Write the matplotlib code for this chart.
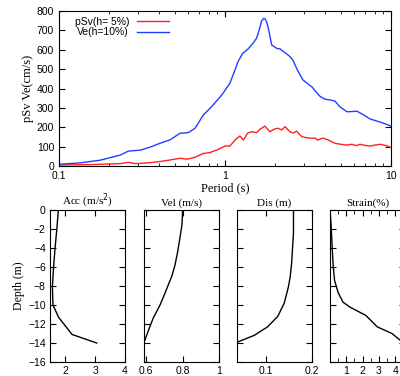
import matplotlib
matplotlib.use("Agg")
import matplotlib.pyplot as plt
from matplotlib.ticker import FixedLocator, NullFormatter, LogLocator
import numpy as np

SANS = ['Liberation Sans', 'DejaVu Sans']
SERIF = ['Liberation Serif', 'DejaVu Serif']
plt.rcParams['font.family'] = SANS

# Antwortspektrum (Periode in s, Werte in cm/s)
periode_ve = [0.10, 0.134, 0.177, 0.233, 0.262, 0.31, 0.353, 0.405, 0.466, 0.536,
              0.60, 0.66, 0.74, 0.83, 0.955, 1.07, 1.13, 1.20, 1.28, 1.38, 1.48,
              1.55, 1.61, 1.66, 1.71, 1.74, 1.78, 1.82, 1.87, 1.91, 2.05,
              2.14, 2.30, 2.46, 2.57, 2.75, 2.95, 3.34, 3.73, 4.0, 4.29,
              4.6, 4.93, 5.43, 5.8, 6.24, 6.8, 7.47, 8.95, 10.0]
ve = [9, 16, 30, 56, 77, 82, 97, 117, 135, 169,
      172, 195, 263, 306, 366, 427, 480, 540, 582, 605, 635,
      660, 705, 748, 762, 760, 745, 715, 665, 625, 607,
      605, 585, 565, 545, 490, 444, 408, 360, 345, 341,
      335, 305, 280, 281, 283, 265, 243, 222, 206]

periode_psv = [0.10, 0.15, 0.233, 0.262, 0.29, 0.353, 0.405, 0.466, 0.536, 0.59,
               0.66, 0.74, 0.81, 0.91, 1.0, 1.07, 1.15, 1.23, 1.29, 1.37,
               1.45, 1.55, 1.62, 1.74, 1.86, 1.99, 2.09, 2.2, 2.3, 2.46,
               2.57, 2.7, 2.9, 3.2, 3.5, 3.6, 3.9, 4.2, 4.6, 5.0,
               5.4, 5.8, 6.2, 6.5, 7.0, 7.5, 8.0, 8.6, 9.4, 10.0]
psv = [5, 7, 12, 19, 12, 17, 23, 31, 40, 35,
       45, 65, 69, 86, 103, 103, 134, 155, 134, 170,
       177, 172, 189, 206, 177, 191, 195, 186, 203, 177,
       170, 180, 151, 144, 144, 134, 144, 134, 117, 112,
       108, 112, 105, 112, 106, 103, 108, 112, 105, 95]

# Profile ueber die Tiefe
tiefe_acc = [0, -2, -4, -6, -8.1, -10, -11.3, -13.1, -14]
acc = [1.76, 1.71, 1.65, 1.60, 1.56, 1.58, 1.77, 2.22, 3.05]

tiefe_vel = [0, -1.5, -3.1, -4.5, -5.9, -7, -8.0, -9, -10, -11.4, -12.7, -13.9]
vel = [0.80, 0.797, 0.784, 0.772, 0.757, 0.74, 0.719, 0.698, 0.676, 0.638, 0.612, 0.589]

tiefe_dis = [0, -2.4, -4, -5.6, -7, -8.1, -9.8, -11.2, -12.3, -13.2, -13.9]
dis = [0.160, 0.160, 0.158, 0.156, 0.153, 0.149, 0.140, 0.126, 0.104, 0.075, 0.039]

tiefe_strain = [0, -0.7, -2, -4.2, -6, -7.4, -8.7, -9.7, -10.2, -11.1, -12.3, -13, -13.7, -14]
strain = [0.0, 0.03, 0.08, 0.14, 0.2, 0.28, 0.5, 0.8, 1.2, 2.2, 2.9, 3.8, 4.3, 4.55]

fig = plt.figure(figsize=(4, 3.76), dpi=100)

# oberes Diagramm
ax = fig.add_axes([0.1475, 0.5585, 0.83, 0.4122])
ax.plot(periode_psv, psv, color='#ff2020', lw=1.0, label='pSv(h= 5%)')
ax.plot(periode_ve, ve, color='#2040ff', lw=1.0, label='Ve(h=10%)')
ax.set_xscale('log')
ax.set_xlim(0.1, 10)
ax.set_ylim(0, 800)
ax.xaxis.set_major_locator(FixedLocator([0.1, 1, 10]))
ax.set_xticklabels(['0.1', '1', '10'])
ax.xaxis.set_minor_locator(LogLocator(base=10, subs=np.arange(2, 10)))
ax.xaxis.set_minor_formatter(NullFormatter())
ax.set_yticks(range(0, 801, 100))
ax.tick_params(which='both', direction='in', top=True, right=True, labelsize=7.5)
ax.tick_params(which='major', length=4)
ax.tick_params(which='minor', length=2)
ax.set_xlabel('Period (s)', family=SERIF, fontsize=9, labelpad=1)
ax.set_ylabel('pSv Ve(cm/s)', family=SERIF, fontsize=9, labelpad=2)
ax.legend(loc='upper left', frameon=False, markerfirst=False, fontsize=7.5,
          handlelength=3, borderaxespad=0.3, labelspacing=0.05,
          bbox_to_anchor=(0.025, 1.01))

# untere Profile
pos_x = [0.125, 0.36, 0.5925, 0.825]
breite = 0.1875
titel = ['Acc (m/s$^2$)', 'Vel (m/s)', 'Dis (m)', 'Strain(%)']
daten = [(acc, tiefe_acc), (vel, tiefe_vel), (dis, tiefe_dis), (strain, tiefe_strain)]
xlims = [(1.48, 4), (0.588, 1.0), (0.038, 0.2), (0, 4.6)]
xticks = [[2, 3, 4], [0.6, 0.8, 1.0], [0.1, 0.2], [1, 2, 3, 4]]
xlabels = [['2', '3', '4'], ['0.6', '0.8', '1'], ['0.1', '0.2'], ['1', '2', '3', '4']]

for i in range(4):
    a = fig.add_axes([pos_x[i], 0.0372, breite, 0.4043])
    a.plot(daten[i][0], daten[i][1], color='black', lw=1.0)
    a.set_xlim(*xlims[i])
    a.set_ylim(-16, 0)
    a.set_yticks(range(-16, 1, 2))
    a.set_xticks(xticks[i])
    a.set_xticklabels(xlabels[i])
    if i == 3:
        a.set_xticks(np.arange(0.5, 4.6, 0.5), minor=True)
    a.tick_params(which='both', direction='in', top=True, right=True, labelsize=7.5, pad=3)
    a.tick_params(which='major', length=4)
    a.tick_params(which='minor', length=3)
    a.set_title(titel[i], family=SERIF, fontsize=8, pad=3)
    if i == 0:
        a.set_ylabel('Depth (m)', family=SERIF, fontsize=8.5, labelpad=2)
    else:
        a.set_yticklabels([])

fig.savefig('out.png', dpi=100)
